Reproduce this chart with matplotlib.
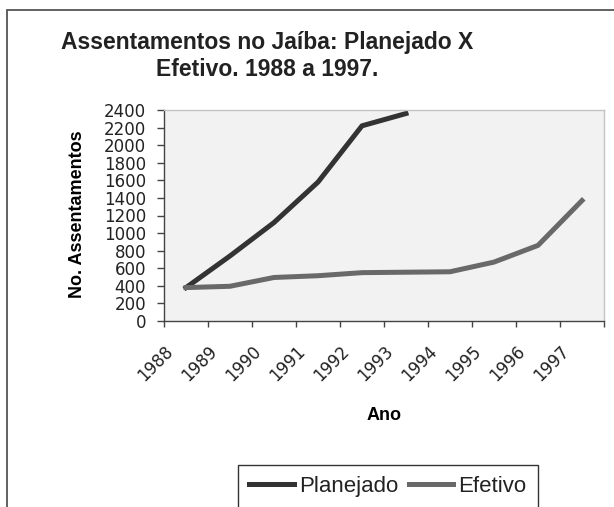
import numpy as np
import matplotlib

matplotlib.use("Agg")
import matplotlib.pyplot as plt
import matplotlib.transforms as mtransforms
from matplotlib.patches import Rectangle

plt.rcParams["font.family"] = ["Liberation Sans", "DejaVu Sans"]

YEARS = ["1988", "1989", "1990", "1991", "1992", "1993", "1994", "1995", "1996", "1997"]
PLANEJADO = [380, 740, 1120, 1580, 2220, 2360, np.nan, np.nan, np.nan, np.nan]
EFETIVO = [380, 395, 495, 515, 550, 555, 560, 670, 860, 1370]

W, H = 614, 507
fig = plt.figure(figsize=(W / 100, H / 100), dpi=100)
ax = fig.add_axes([164 / W, 1 - 321 / H, 440 / W, 211 / H])
ax.set_facecolor("#f2f2f2")

x = np.arange(len(YEARS))
ax.plot(x, PLANEJADO, color="#333333", lw=3.6, label="Planejado")
ax.plot(x, EFETIVO, color="#696969", lw=3.6, label="Efetivo")

ax.set_xlim(-0.5, len(YEARS) - 0.5)
ax.set_ylim(0, 2400)
ax.set_yticks(range(0, 2401, 200))
ax.tick_params(axis="y", direction="out", length=5, width=1, color="#444444",
               labelsize=12, labelcolor="#222222", pad=8)
for lab in ax.get_yticklabels():
    lab.set_family("DejaVu Sans")

# tick marks on category boundaries, labels in the centres
ax.set_xticks(np.arange(-0.5, len(YEARS), 1.0))
ax.set_xticklabels([])
ax.tick_params(axis="x", which="major", direction="out", length=4.5, width=1,
               color="#444444")
ax.set_xticks(x, minor=True)
ax.set_xticklabels(YEARS, minor=True)
ax.tick_params(axis="x", which="minor", length=0, pad=20, labelsize=12,
               labelcolor="#222222")
shift = mtransforms.ScaledTranslation(-0.16, 0, fig.dpi_scale_trans)
for lab in ax.get_xticklabels(minor=True):
    lab.set_family("DejaVu Sans")
    lab.set_rotation(45)
    lab.set_ha("right")
    lab.set_va("center")
    lab.set_rotation_mode("anchor")
    lab.set_transform(lab.get_transform() + shift)

for side in ("left", "bottom"):
    ax.spines[side].set_color("#444444")
    ax.spines[side].set_linewidth(1)
for side in ("top", "right"):
    ax.spines[side].set_color("#c4c4c4")
    ax.spines[side].set_linewidth(1)

ax.set_ylabel("No. Assentamentos", fontsize=13, fontweight="bold", va="center")
ax.yaxis.set_label_coords(78 / W, 1 - 214 / H, transform=fig.transFigure)
fig.text(384 / W, 1 - 415 / H, "Ano", fontsize=13, fontweight="bold",
         ha="center", va="center")

fig.text(267 / W, 1 - 56 / H, "Assentamentos no Jaíba: Planejado X\nEfetivo. 1988 a 1997.",
         fontsize=16.5, fontweight="bold", ha="center", va="center",
         color="#222222", linespacing=1.2)

leg = fig.legend(loc="upper center", bbox_to_anchor=(388 / W, 1 - 465 / H), ncol=2,
                 fontsize=16, frameon=True, fancybox=False, edgecolor="#333333",
                 framealpha=1, handlelength=2.0, handletextpad=0.25,
                 columnspacing=0.45, borderpad=0.5, borderaxespad=0)
leg.get_frame().set_linewidth(1)
for t in leg.get_texts():
    t.set_color("#222222")

# outer chart frame, partly cut off on the right and bottom
fig.add_artist(Rectangle((7 / W, -0.2), 1.2, 1 - 10 / H + 0.2,
                         transform=fig.transFigure, fill=False,
                         edgecolor="#555555", linewidth=1.3))

fig.savefig("out.png", dpi=100)
